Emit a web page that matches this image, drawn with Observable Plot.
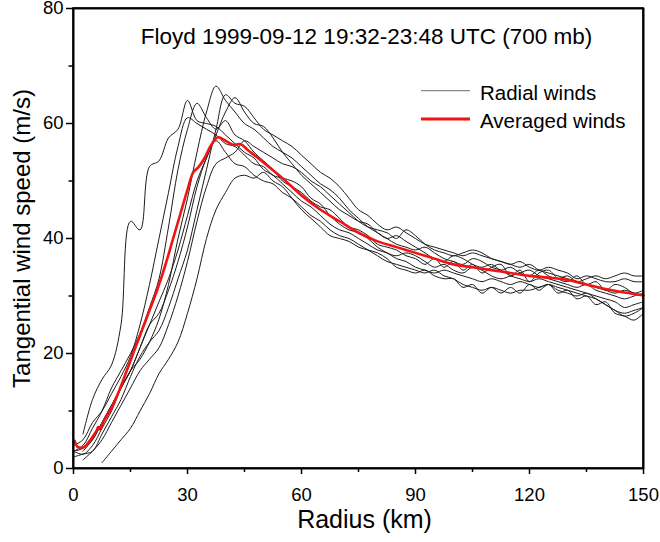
<!DOCTYPE html>
<html>
<head>
<meta charset="utf-8">
<script src="https://cdn.jsdelivr.net/npm/d3@7"></script>
<script src="https://cdn.jsdelivr.net/npm/@observablehq/plot@0.6"></script>
<style>
  html, body { margin: 0; padding: 0; background: #fff; }
  #chart { width: 660px; height: 542px; }
</style>
</head>
<body>
<div id="chart"></div>
<script>
// ---- data ----
const titleText = "Floyd 1999-09-12 19:32-23:48 UTC (700 mb)";
const xLabel = "Radius (km)";
const yLabel = "Tangential wind speed (m/s)";
const xTicks = [0, 30, 60, 90, 120, 150];
const xMinor = [15, 45, 75, 105, 135];
const yTicks = [0, 20, 40, 60, 80];
const yMinor = [10, 30, 50, 70];
const xDomain = [0, 150];
const yDomain = [0, 80];

// shared radius grid (km) for the radial legs
const radius = [0,2.5,5,7.5,10,12.5,15,17.5,20,22.5,25,27.5,30,32.5,35,37.5,40,42.5,45,47.5,50,52.5,55,57.5,60,62.5,65,67.5,70,72.5,75,77.5,80,82.5,85,87.5,90,92.5,95,97.5,100,102.5,105,107.5,110,112.5,115,117.5,120,122.5,125,127.5,130,132.5,135,137.5,140,142.5,145,147.5,150];

const leg1 = [null,6,12,15.5,18,25,43,41.5,52.5,53.5,57.5,59,64,60.5,60,59.5,58,56.5,55,54,52,51,49.5,48,46.5,45.5,44,42.5,41.5,41,40,39,38,37.5,36.5,36,35,34.5,34,34.5,34,33.5,33,32.5,33,32.5,32,32.5,32,31.5,32,31,30.5,30,30.5,29.5,28.5,27.5,26.5,27,28];
const leg2 = [3,4,7,10,14,17,20,23.5,28,33,42,52,59,63.5,61,59,60.5,58,57,55,53.5,52,50,49,48,46.5,45.5,45,43.5,42,41.5,40.5,39,38.5,38,37,36.5,35.5,36.5,35,36,34.5,35.5,34,35,35.5,33.5,34.5,32.5,34,34.5,33,32.5,33.5,32,32.5,31,32,31.5,30.5,31];
const leg3 = [null,3,5,8,11,14,17,19,22,26,32,40,47,55,62,66.5,64,62,60,59,57.5,56,55,54,52.5,51,49.5,48.5,47,45,43.5,42,41,40,40.5,39.5,38.5,37.5,36.5,36,37,36.5,35.5,35,35.5,34.5,35,34,33.5,34.5,33.5,33,33.5,32.5,33,33.5,33,33.5,34,33.5,33.5];
const leg4 = [2,2.5,3,6,9,12,16,19.5,22,24,28,33,38,45,52,59,65,63.5,63,61,59,58,57,56,54.5,53,51.5,50.5,49,47,45,44,42.5,41.5,42,41,40,39,38.5,38,37.5,37,37.5,37,36.5,36,35.5,35,35.5,34.5,34,33.5,33,32.5,32,31.5,31,30.5,31,30.5,30];
const leg5 = [3,3.5,5,8,11,14,17,21,25,29,33,38,44,50,54,58,62,64.5,62,60,59.5,57.5,55,53,51,49.5,48,46.5,45,44,43,42.5,41,40,39,38.5,38,38.5,37.5,36.5,36,35.5,36.5,36,35,34.5,33.5,33,32.5,33,32.5,32,31.5,31,30.5,30,29.5,29,28,28.5,29];
const leg6 = [4,5,8,10,13,16,19.5,25,32,40,48,56,61,60,59,58,56.5,56,54.5,53,52.5,51,50.5,50,49,47,46,44,42.5,41.5,41,40,38.5,37.5,37,37.5,37,36,35,35.5,34.5,34,35,34.5,33.5,33,33.5,34,34.5,33.5,33,32.5,32,31.5,32,31,30.5,30,29.5,30,30.5];
const leg7 = [3,2.5,4,7,10,14,17,21,25,27,31,36,42,49,54,57,55,53,52.5,51,50,49.5,48,47,45.5,44,43,41.5,40.5,40,39,38,37,36,35.5,35,34.5,34,34.5,33.5,33,32,31.5,31,31.5,31,30.5,31,31,31.5,32,31.5,31,30.5,30,29.5,28.5,27.5,27,27.5,28];
const leg8 = [null,1.5,3,5,8,11,14,17,19,21,25,30,36,43,49,53,54,55,57,56,55,54,53,52.5,51.5,50,49,47.5,46,44.5,43,42,41.5,41,40,41.5,40.5,39,38,37.5,37,37.5,38,37.5,36.5,36,35.5,36,35,34.5,35,34.5,34,33,33.5,33,32.5,32.5,33,32.5,32.5];
const leg9 = [null,null,null,1,3,5,7,10,13,16.5,19,22,27,33,40,45,48,50.5,51,50.5,51.5,50,49,47,45,43.5,42,40.5,40,39.5,38.5,38,37.5,36.5,35,34.5,34,34.5,33.5,33,33,31.5,32,30.5,31.5,30.5,31.5,30.5,32,31,32,30.5,31,29.5,30,28.5,29,27,26.5,25.8,27];

// averaged winds
const avgRadius = [0.3,1,2,3,4,5,6,6.5,7,8,10,12,14,16,18,20,22,24,26,28,30,31.5,33,34.5,36,38,40,42,44,46,48,50,55,60,65,70,75,80,85,90,95,100,105,110,115,120,125,130,135,140,145,150];
const avgSpeed = [4.8,3.8,3.6,3.8,4.6,5.5,6.5,7.2,6.8,8.3,10.5,13.5,17,20.5,24,27.5,31,35,39.5,44,48.5,51.5,52.5,54,56,57.6,57,56.3,56.4,55.3,54.3,53.2,50.5,47.5,45,43,41,39.5,38.5,37.5,36.5,35.5,35,34.5,34,33.5,33.2,32.8,32,31.2,30.6,30.1];

const legendLabels = ["Radial winds", "Averaged winds"];

// ---- build tables ----
const legs = [leg1, leg2, leg3, leg4, leg5, leg6, leg7, leg8, leg9];
const radial = [];
legs.forEach((vals, k) => vals.forEach((v, i) => radial.push({leg: k, r: radius[i], v: v == null ? NaN : v})));
const averaged = avgRadius.map((r, i) => ({r, v: avgSpeed[i]}));

const radialColor = "#1c1c1c";
const avgColor = "#f01414";
const font = "'Liberation Sans', Arial, sans-serif";
const legendStyle = [
  {label: legendLabels[0], color: "#8a8a8a", width: 1.3},
  {label: legendLabels[1], color: avgColor, width: 2.8}
];

function legendMark(index, scales, values, dims) {
  const g = d3.create("svg:g")
    .attr("font-size", 20.5)
    .attr("font-family", font)
    .attr("text-anchor", "start")
    .attr("fill", "#000");
  const right = dims.width - dims.marginRight;
  const top = dims.marginTop;
  legendStyle.forEach((d, i) => {
    const y = top + 82.7 + i * 28.3;
    g.append("line")
      .attr("x1", right - 222).attr("x2", right - 173)
      .attr("y1", y).attr("y2", y)
      .attr("stroke", d.color).attr("stroke-width", d.width);
    g.append("text")
      .attr("x", right - 163).attr("y", y + 9.3)
      .attr("text-anchor", "start")
      .text(d.label);
  });
  return g.node();
}

const chart = Plot.plot({
  width: 660,
  height: 542,
  marginLeft: 73,
  marginRight: 17,
  marginTop: 8,
  marginBottom: 74,
  style: {fontFamily: font, background: "#fff", color: "#000", overflow: "visible"},
  x: {domain: xDomain},
  y: {domain: yDomain},
  marks: [
    Plot.line(radial, {x: "r", y: "v", z: "leg", stroke: radialColor, strokeWidth: 1, curve: "catmull-rom"}),
    Plot.line(averaged, {x: "r", y: "v", stroke: avgColor, strokeWidth: 2.6, curve: "catmull-rom"}),
    Plot.axisX({ticks: xTicks, tickSize: 6, tickPadding: 13, fontSize: 18.5, label: null, strokeWidth: 1.5}),
    Plot.axisX({ticks: xMinor, tickSize: 4, tickFormat: () => "", label: null, strokeWidth: 1.5}),
    Plot.axisY({ticks: yTicks, tickSize: 7, tickPadding: 3, fontSize: 18.5, label: null, strokeWidth: 1.5}),
    Plot.axisY({ticks: yMinor, tickSize: 4.5, tickFormat: () => "", label: null, strokeWidth: 1.5}),
    Plot.text([titleText], {text: d => d, frameAnchor: "top", textAnchor: "middle", lineAnchor: "middle", dx: 8, dy: 28, fontSize: 22.5}),
    Plot.text([xLabel], {text: d => d, frameAnchor: "bottom", textAnchor: "middle", lineAnchor: "middle", dx: 6, dy: 51, fontSize: 25}),
    Plot.text([yLabel], {text: d => d, frameAnchor: "left", textAnchor: "middle", lineAnchor: "middle", dx: -51, rotate: -90, fontSize: 24}),
    legendMark,
    Plot.ruleY(yDomain, {stroke: "#000", strokeWidth: 1.6}),
    Plot.ruleX(xDomain, {stroke: "#000", strokeWidth: 1.6}),
    Plot.frame({stroke: "#000", strokeWidth: 1.6})
  ]
});
document.getElementById("chart").appendChild(chart);

// plot-area border drawn through the chart's own scales (ensures it sits on top)
const sx = chart.scale("x"), sy = chart.scale("y");
const x0 = sx.apply(xDomain[0]), x1 = sx.apply(xDomain[1]);
const y0 = sy.apply(yDomain[0]), y1 = sy.apply(yDomain[1]);
d3.select(chart).append("rect")
  .attr("x", Math.min(x0, x1)).attr("y", Math.min(y0, y1))
  .attr("width", Math.abs(x1 - x0)).attr("height", Math.abs(y1 - y0))
  .attr("fill", "none").attr("stroke", "#000").attr("stroke-width", 1.6);
</script>
</body>
</html>
